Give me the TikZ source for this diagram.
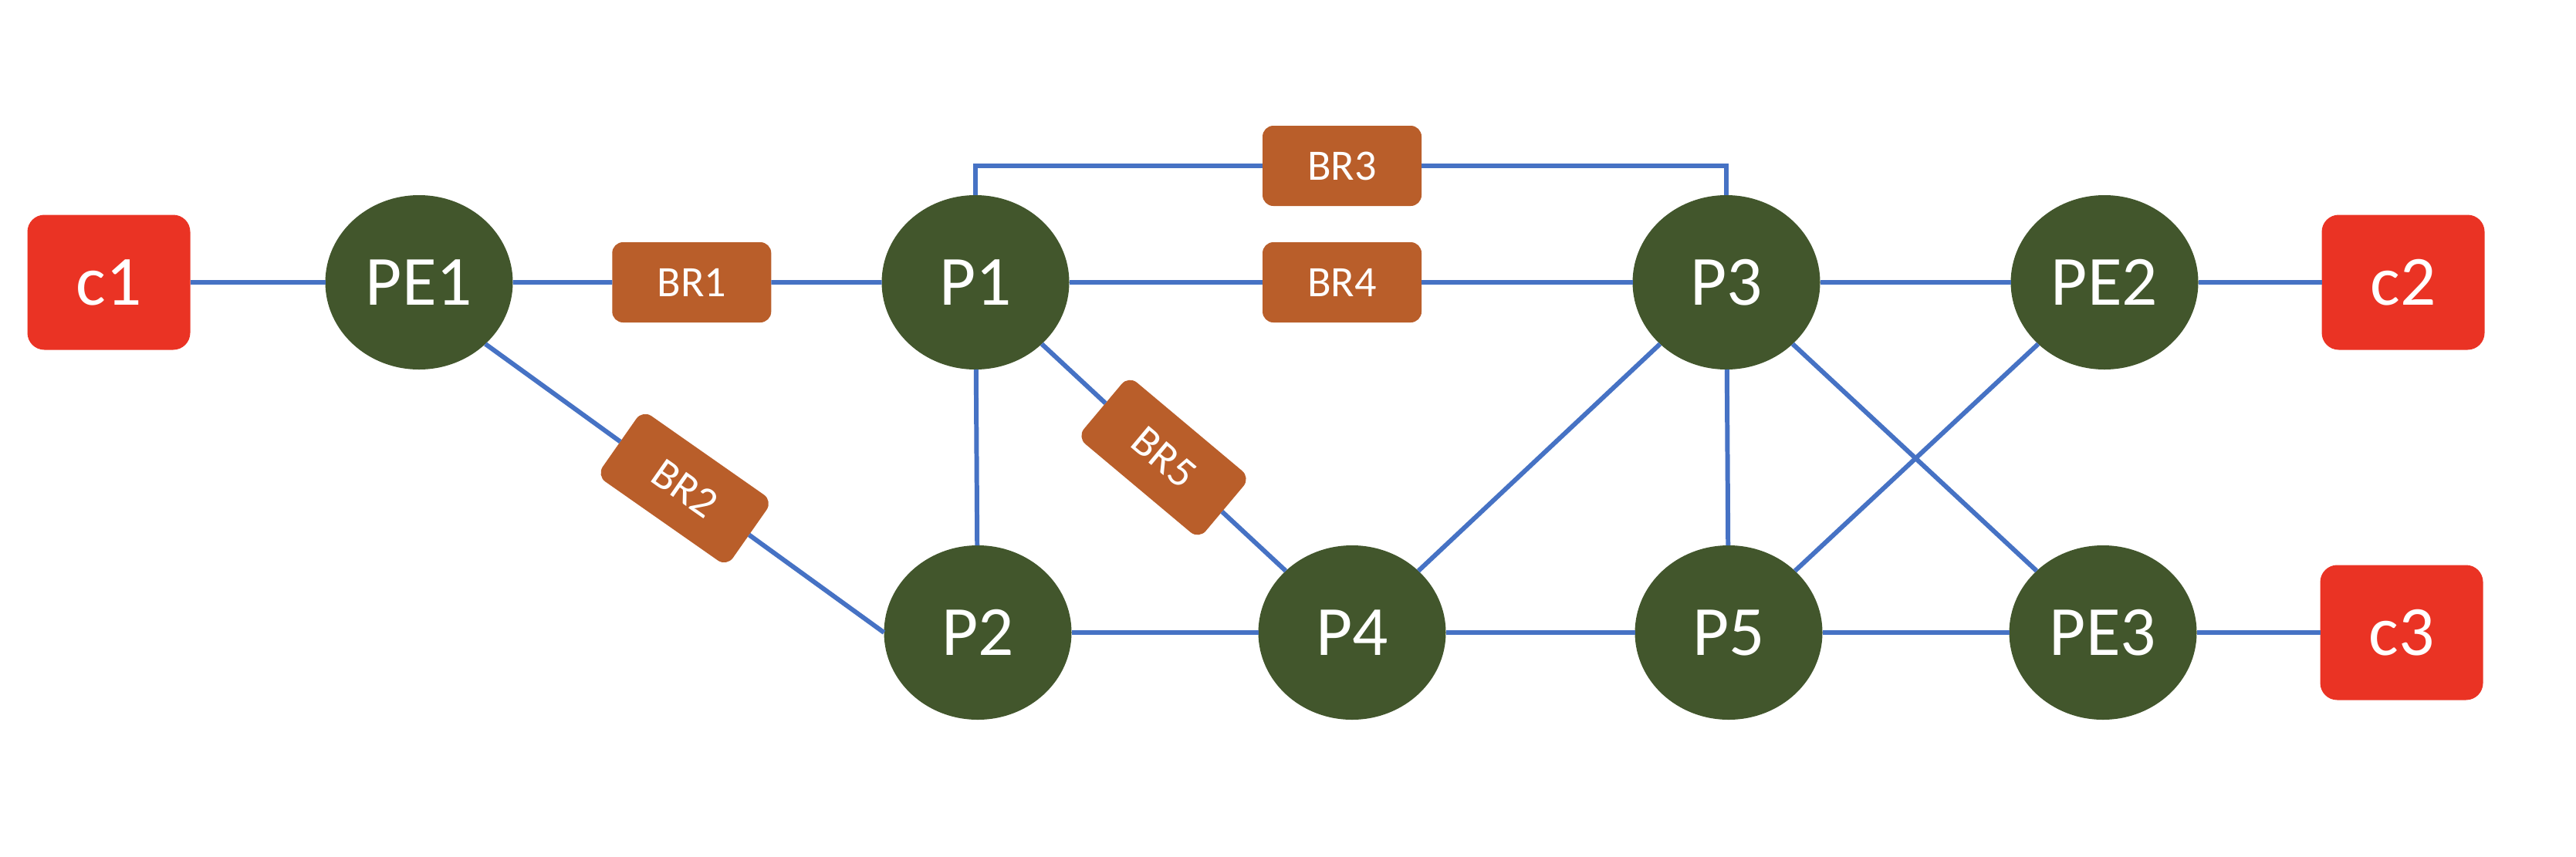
\documentclass[tikz,border=0pt]{standalone}
\usepackage{fontspec}
\setmainfont{Carlito}
\usetikzlibrary{shapes, positioning, calc}
\usepackage{xcolor}
\definecolor{linkblue}{RGB}{70,114,196}
\definecolor{rtgreen}{RGB}{66,86,44}
\definecolor{cered}{RGB}{234,51,36}
\definecolor{brorange}{RGB}{185,94,42}
\tikzstyle{link} = [linkblue, line width=1.7pt]

\begin{document}
\begin{tikzpicture}[font=\fontsize{26}{30}\selectfont]
        \useasboundingbox (0,0) rectangle (33.38,11.10);
        \tikzstyle{rt}=[ellipse, fill=rtgreen, text=white, minimum width=2.43cm,
                        minimum height=2.26cm, inner sep=0pt, outer sep=0pt]
        \tikzstyle{ce}=[rectangle, rounded corners=0.22cm, fill=cered, text=white,
                        minimum width=2.11cm, minimum height=1.75cm, outer sep=0pt]
        \tikzstyle{br}=[rectangle, rounded corners=0.14cm, fill=brorange, text=white,
                        minimum width=2.06cm, minimum height=1.04cm, outer sep=0pt,
                        font=\fontsize{16}{18}\selectfont]
        \node (pe1) [rt] at (5.43,7.44) {PE1};
        \node (p1)  [rt] at (12.64,7.44) {P1};
        \node (p3)  [rt] at (22.37,7.44) {P3};
        \node (pe2) [rt] at (27.27,7.44) {PE2};
        \node (p2)  [rt] at (12.67,2.90) {P2};
        \node (p4)  [rt] at (17.52,2.90) {P4};
        \node (p5)  [rt] at (22.40,2.90) {P5};
        \node (pe3) [rt] at (27.25,2.90) {PE3};
        \node (c1) [ce, left=1.75cm of pe1] {c1};
        \node (c2) [ce, right=1.6cm of pe2] {c2};
        \node (c3) [ce, right=1.6cm of pe3] {c3};
        \node (br1) [br] at ($(pe1)!0.49!(p1)$) {BR1};
        \node (br4) [br] at (17.39,7.44) {BR4};
        \node (br3) [br] at (17.39,8.95) {BR3};
        \node (br2) [br, rotate=-35] at ($(pe1.south east)!0.5!(p2.west)$) {BR2};
        \node (br5) [br, rotate=-40] at ($(p1.south east)!0.5!(p4.north west)$) {BR5};
        \draw[link] (c1)--(pe1);
        \draw[link] (pe1)--(br1);
        \draw[link] (br1)--(p1);
        \draw[link] (p1)--(br4);
        \draw[link] (br4)--(p3);
        \draw[link] (p1.north) |- (br3.west);
        \draw[link] (br3.east) -| (p3.north);
        \draw[link] (p3)--(pe2);
        \draw[link] (pe2)--(c2);
        \draw[link] (pe1.south east)--(br2);
        \draw[link] (br2)--(p2.west);
        \draw[link] (p1.south east)--(br5);
        \draw[link] (br5)--(p4.north west);
        \draw[link] (p1)--(p2);
        \draw[link] (p2)--(p4);
        \draw[link] (p4)--(p5);
        \draw[link] (p5)--(pe3);
        \draw[link] (pe3)--(c3);
        \draw[link] (p4.north east)--(p3.south west);
        \draw[link] (p3)--(p5);
        \draw[link] (p3.south east)--(pe3.north west);
        \draw[link] (p5.north east)--(pe2.south west);
    \end{tikzpicture}
\end{document}
